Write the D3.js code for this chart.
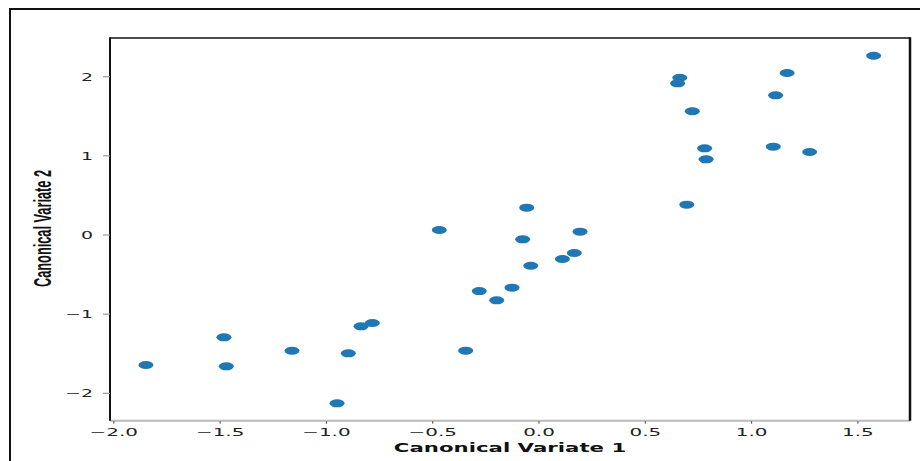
<!DOCTYPE html>
<html>
<head>
<meta charset="utf-8">
<script src="https://cdn.jsdelivr.net/npm/d3@7"></script>
<style>
  html, body { margin: 0; padding: 0; background: #fff; }
  svg { display: block; }
</style>
</head>
<body>
<svg id="chart" width="920" height="461"></svg>
<script>
// Data
const cv1 = [-1.849, -1.482, -1.471, -1.162, -0.950, -0.897, -0.837, -0.784, -0.345, -0.469,
             -0.281, -0.199, -0.127, -0.077, -0.058, -0.039, 0.110, 0.166, 0.193, 0.662,
             0.652, 0.721, 0.779, 0.786, 0.695, 1.113, 1.167, 1.102, 1.273, 1.574];
const cv2 = [-1.642, -1.293, -1.659, -1.462, -2.127, -1.495, -1.154, -1.112, -1.461, 0.063,
             -0.708, -0.825, -0.665, -0.055, 0.345, -0.388, -0.303, -0.227, 0.042, 1.987,
             1.916, 1.563, 1.095, 0.956, 0.383, 1.765, 2.047, 1.116, 1.049, 2.265];
const xTicks = [-2.0, -1.5, -1.0, -0.5, 0.0, 0.5, 1.0, 1.5];
const yTicks = [-2, -1, 0, 1, 2];
const xTitle = "Canonical Variate 1";
const yTitle = "Canonical Variate 2";

const svg = d3.select("#chart");
const L = 110, R = 910, T = 38, B = 420.7;
const stretch = 1.8;

const x = d3.scaleLinear().domain([-2.018, 1.745]).range([L, R]);
const y = d3.scaleLinear().domain([-2.346, 2.489]).range([B, T]);

// outer figure frame
svg.append("rect").attr("x", 10).attr("y", 9).attr("width", 930).attr("height", 470)
  .attr("fill", "none").attr("stroke", "#111").attr("stroke-width", 2);

// points
svg.append("g").selectAll("ellipse").data(cv1.map((v, i) => [v, cv2[i]])).join("ellipse")
  .attr("cx", d => x(d[0])).attr("cy", d => y(d[1]))
  .attr("rx", 7.5).attr("ry", 4)
  .attr("fill", "#1f77b4");

// spines
svg.append("line").attr("x1", L).attr("x2", R).attr("y1", B).attr("y2", B)
  .attr("stroke", "#bbb").attr("stroke-width", 2);
svg.append("line").attr("x1", L).attr("x2", R).attr("y1", T).attr("y2", T)
  .attr("stroke", "#111").attr("stroke-width", 1.5);
svg.append("line").attr("x1", L).attr("x2", L).attr("y1", T - 0.75).attr("y2", B)
  .attr("stroke", "#111").attr("stroke-width", 2);
svg.append("line").attr("x1", R).attr("x2", R).attr("y1", T - 0.75).attr("y2", B)
  .attr("stroke", "#111").attr("stroke-width", 2.5);

// x ticks
const xg = svg.append("g");
xTicks.forEach(t => {
  const px = x(t);
  xg.append("line").attr("x1", px).attr("x2", px).attr("y1", B + 0.5).attr("y2", B + 3)
    .attr("stroke", "#444").attr("stroke-width", 1);
  xg.append("text")
    .attr("transform", `translate(${px},436) scale(${stretch + 0.1},1)`)
    .attr("text-anchor", "middle")
    .attr("font-family", "DejaVu Sans")
    .attr("font-size", 10.5)
    .attr("fill", "#222")
    .text(d3.format(".1f")(t).replace("-", "\u2212"));
});

// y ticks
const yg = svg.append("g");
yTicks.forEach(t => {
  const py = y(t);
  yg.append("line").attr("x1", L - 7).attr("x2", L).attr("y1", py).attr("y2", py)
    .attr("stroke", "#999").attr("stroke-width", 1.2);
  yg.append("text")
    .attr("transform", `translate(93,${py + 4}) scale(${stretch},1)`)
    .attr("text-anchor", "end")
    .attr("font-family", "DejaVu Sans")
    .attr("font-size", 10.5)
    .attr("fill", "#222")
    .text(String(t).replace("-", "\u2212"));
});

// axis titles
svg.append("text")
  .attr("transform", `translate(${(L + R) / 2},452) scale(1.85,1)`)
  .attr("text-anchor", "middle")
  .attr("font-family", "DejaVu Sans")
  .attr("font-weight", "bold")
  .attr("font-size", 11.5)
  .attr("fill", "#111")
  .text(xTitle);

svg.append("text")
  .attr("transform", "translate(51,228.5) rotate(-90)")
  .attr("text-anchor", "middle")
  .attr("font-family", "Liberation Sans Narrow, Liberation Sans, sans-serif")
  .attr("font-weight", "bold")
  .attr("font-size", 23)
  .attr("textLength", 117)
  .attr("lengthAdjust", "spacingAndGlyphs")
  .attr("fill", "#111")
  .text(yTitle);
</script>
</body>
</html>
